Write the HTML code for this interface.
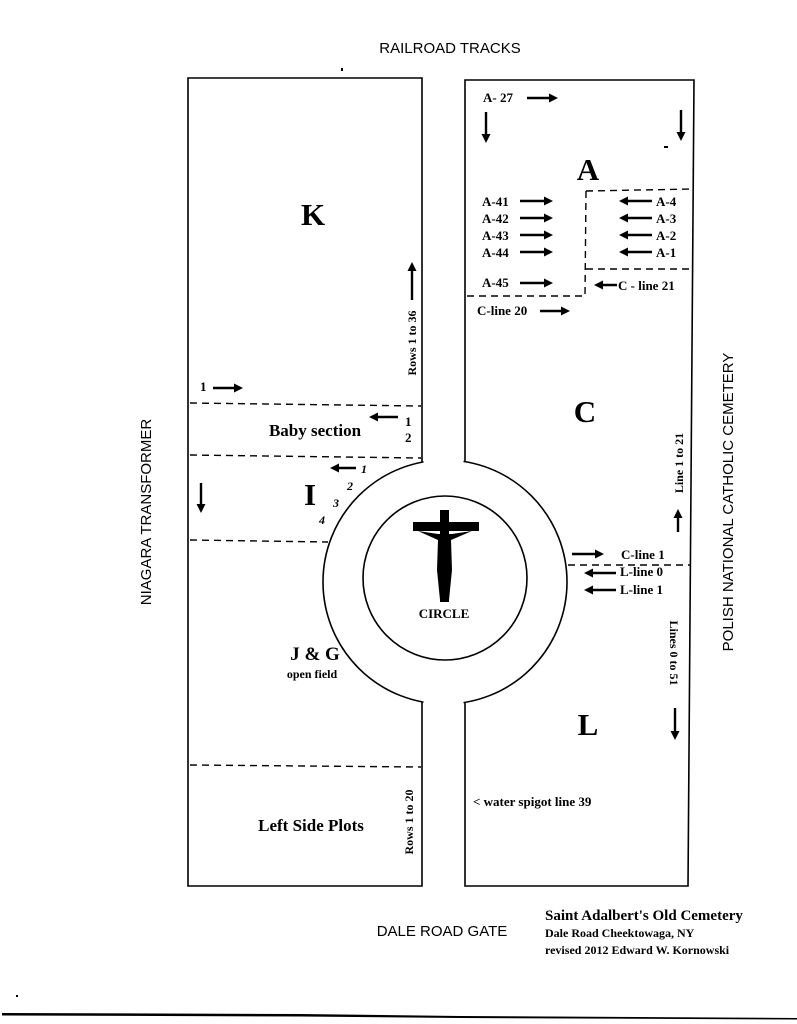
<!DOCTYPE html>
<html><head><meta charset="utf-8"><style>
html,body{margin:0;padding:0;background:#fff;}
svg{display:block;}
.s{font-family:"Liberation Sans",sans-serif;}
.b{font-family:"Liberation Serif",serif;font-weight:bold;}
</style></head><body>
<svg width="797" height="1024" viewBox="0 0 797 1024" xmlns="http://www.w3.org/2000/svg">
<defs>
<marker id="ah" markerWidth="9" markerHeight="9" refX="6" refY="4.5" orient="auto" markerUnits="userSpaceOnUse"><path d="M0,0 L9,4.5 L0,9 z" fill="#000"/></marker>
</defs>
<rect width="797" height="1024" fill="#fff"/>
<path d="M188,78 L422,78 L422,886 L188,886 Z" fill="none" stroke="#000" stroke-width="1.6"/>
<path d="M465,80 L694,80 L688,886 L465,886 Z" fill="none" stroke="#000" stroke-width="1.6"/>
<circle cx="445" cy="582" r="122" fill="#fff" stroke="#000" stroke-width="1.6"/>
<rect x="423.5" y="440" width="40" height="40" fill="#fff"/>
<rect x="423.5" y="684" width="40" height="50" fill="#fff"/>
<circle cx="445" cy="578" r="82" fill="none" stroke="#000" stroke-width="1.6"/>
<g stroke="#000" stroke-width="1.4" stroke-dasharray="7,5" fill="none">
<line x1="190" y1="403" x2="421" y2="406"/>
<line x1="190" y1="455" x2="421" y2="458"/>
<line x1="190" y1="540" x2="328" y2="542"/>
<line x1="190" y1="765" x2="421" y2="767"/>
<path d="M586,191 L694,189"/>
<path d="M586,191 L585,296 L467,296"/>
<line x1="586" y1="269" x2="694" y2="269"/>
<line x1="568" y1="565" x2="690" y2="565"/>
</g>
<rect x="440" y="510" width="9" height="92" fill="#000"/>
<rect x="413" y="522" width="66" height="9" fill="#000"/>
<path d="M418,531 L438,540 L437,570 L440,600 L449,600 L452,570 L451,540 L472,531 L452,534 L438,534 Z" fill="#000"/>
<text x="444" y="618" class="b" font-size="13" text-anchor="middle">CIRCLE</text>
<text x="450" y="53" class="s" font-size="15" text-anchor="middle">RAILROAD TRACKS</text>
<text x="442" y="936" class="s" font-size="15" text-anchor="middle">DALE ROAD GATE</text>
<text x="151" y="512" class="s" font-size="15" text-anchor="middle" transform="rotate(-90 151 512)">NIAGARA TRANSFORMER</text>
<text x="733" y="502" class="s" font-size="15" text-anchor="middle" transform="rotate(-90 733 502)">POLISH NATIONAL CATHOLIC CEMETERY</text>
<text x="545" y="920" class="b" font-size="15">Saint Adalbert's Old Cemetery</text>
<text x="545" y="937" class="b" font-size="12">Dale Road Cheektowaga, NY</text>
<text x="545" y="954" class="b" font-size="12">revised 2012 Edward W. Kornowski</text>
<text x="313" y="225" class="b" font-size="31" text-anchor="middle">K</text>
<text x="588" y="180" class="b" font-size="31" text-anchor="middle">A</text>
<text x="585" y="422" class="b" font-size="31" text-anchor="middle">C</text>
<text x="310" y="505" class="b" font-size="31" text-anchor="middle">I</text>
<text x="588" y="735" class="b" font-size="31" text-anchor="middle">L</text>
<text x="315" y="660" class="b" font-size="19" text-anchor="middle">J &amp; G</text>
<text x="312" y="678" class="b" font-size="12" text-anchor="middle">open field</text>
<text x="315" y="436" class="b" font-size="17" text-anchor="middle">Baby section</text>
<text x="311" y="831" class="b" font-size="17" text-anchor="middle">Left Side Plots</text>
<g class="b" font-size="13">
<text x="483" y="102">A- 27</text>
<text x="482" y="206">A-41</text>
<text x="482" y="223">A-42</text>
<text x="482" y="240">A-43</text>
<text x="482" y="257">A-44</text>
<text x="482" y="287">A-45</text>
<text x="477" y="315">C-line 20</text>
<text x="656" y="206">A-4</text>
<text x="656" y="223">A-3</text>
<text x="656" y="240">A-2</text>
<text x="656" y="257">A-1</text>
<text x="618" y="290">C - line 21</text>
<text x="621" y="559">C-line 1</text>
<text x="620" y="576">L-line 0</text>
<text x="620" y="594">L-line 1</text>
<text x="473" y="806">&lt; water spigot line 39</text>
<text x="200" y="391">1</text>
<text x="405" y="426">1</text>
<text x="405" y="442">2</text>
</g>
<g class="b" font-size="12" font-style="italic">
<text x="361" y="473">1</text>
<text x="347" y="490">2</text>
<text x="333" y="507">3</text>
<text x="319" y="524">4</text>
</g>
<text x="416" y="343" class="b" font-size="12" text-anchor="middle" transform="rotate(-90 416 343)">Rows 1 to 36</text>
<text x="413" y="822" class="b" font-size="12" text-anchor="middle" transform="rotate(-90 413 822)">Rows 1 to 20</text>
<text x="683" y="463" class="b" font-size="12" text-anchor="middle" transform="rotate(-90 683 463)">Line 1 to 21</text>
<text x="670" y="653" class="b" font-size="12" text-anchor="middle" transform="rotate(90 670 653)">Lines 0 to 51</text>
<g stroke="#000" stroke-width="2.4" marker-end="url(#ah)">
<line x1="527" y1="98" x2="555" y2="98"/>
<line x1="486" y1="112" x2="486" y2="140"/>
<line x1="681" y1="110" x2="681" y2="138"/>
<line x1="520" y1="201" x2="550" y2="201"/>
<line x1="520" y1="218" x2="550" y2="218"/>
<line x1="520" y1="235" x2="550" y2="235"/>
<line x1="520" y1="252" x2="550" y2="252"/>
<line x1="520" y1="283" x2="550" y2="283"/>
<line x1="540" y1="311" x2="567" y2="311"/>
<line x1="652" y1="201" x2="622" y2="201"/>
<line x1="652" y1="218" x2="622" y2="218"/>
<line x1="652" y1="235" x2="622" y2="235"/>
<line x1="652" y1="252" x2="622" y2="252"/>
<line x1="617" y1="285" x2="597" y2="285"/>
<line x1="572" y1="554" x2="601" y2="554"/>
<line x1="616" y1="573" x2="587" y2="573"/>
<line x1="616" y1="590" x2="587" y2="590"/>
<line x1="678" y1="532" x2="678" y2="512"/>
<line x1="675" y1="708" x2="675" y2="737"/>
<line x1="412" y1="300" x2="412" y2="265"/>
<line x1="213" y1="388" x2="240" y2="388"/>
<line x1="398" y1="417" x2="372" y2="417"/>
<line x1="356" y1="468" x2="333" y2="468"/>
<line x1="201" y1="483" x2="201" y2="510"/>
</g>
<rect x="341" y="68" width="2" height="3" fill="#000"/>
<rect x="664" y="146" width="4" height="2" fill="#000"/>
<path d="M2,1013 L300,1014 L460,1016 L797,1018 L797,1019.5 L460,1018 L300,1016.5 L2,1015.5 Z" fill="#000"/>
<rect x="16" y="995" width="2" height="2" fill="#000"/>
</svg>
</body></html>
